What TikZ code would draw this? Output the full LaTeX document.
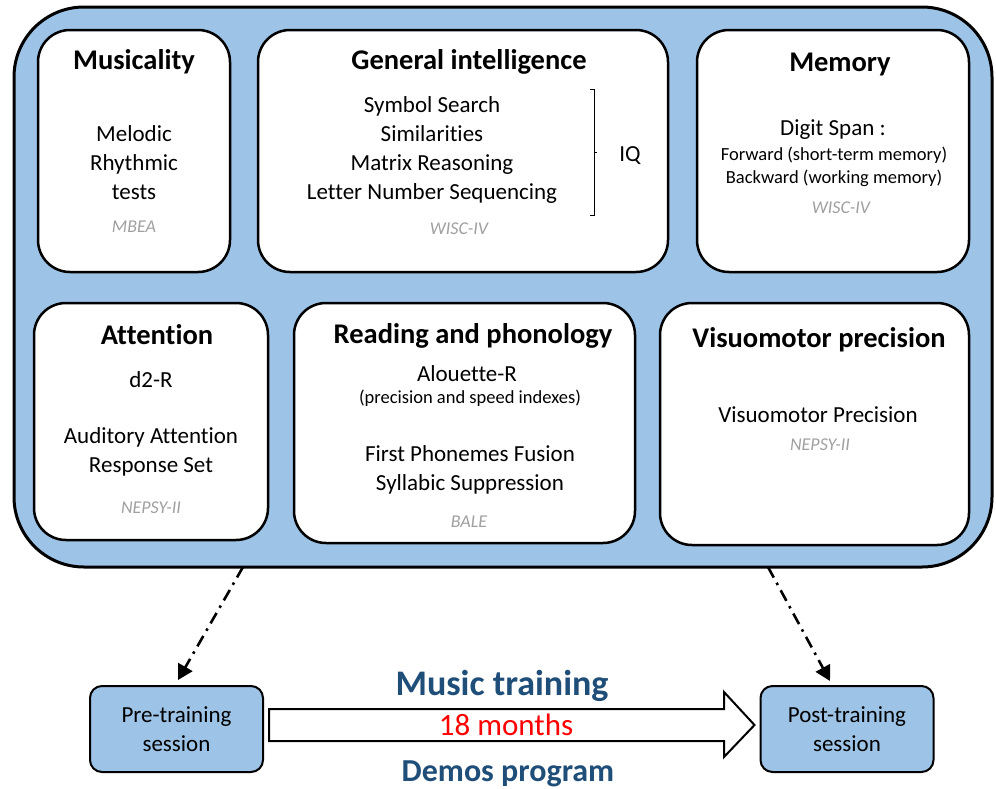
\documentclass[tikz,border=0pt]{standalone}
\usepackage{fontspec}
\setmainfont{Carlito}[Ligatures=NoCommon]
\usetikzlibrary{arrows.meta,calc}
\definecolor{boxblue}{RGB}{157,195,230}
\definecolor{darkblue}{RGB}{31,78,121}
\definecolor{graytxt}{RGB}{160,160,160}
\tikzset{
  outerbox/.style={draw=black, line width=3pt, fill=boxblue, rounded corners=70pt, minimum width=978pt, minimum height=560pt, inner sep=0pt},
  ibox/.style={draw=black, line width=2.5pt, fill=white, rounded corners=32pt, inner sep=0pt},
  sbox/.style={draw=black, line width=2pt, fill=boxblue, rounded corners=12pt, minimum width=173pt, minimum height=86pt, inner sep=0pt, align=center, font=\fontsize{23}{29}\selectfont},
  ttl/.style={font=\fontsize{28.5}{32}\selectfont\bfseries, inner sep=0pt},
  bodytxt/.style={font=\fontsize{23}{29}\selectfont, align=center, inner sep=0pt},
  smalltxt/.style={font=\fontsize{18.5}{23}\selectfont, align=center, inner sep=0pt},
  srctxt/.style={font=\fontsize{18}{22}\selectfont\itshape, text=graytxt, inner sep=0pt},
  dashdot/.style={line width=2.6pt, dash pattern=on 12pt off 6pt on 2.5pt off 6pt, -{Triangle[length=15pt,width=16pt]}},
  bigarrow/.style={draw=black, line width=2pt, fill=white, line join=miter}
}
\begin{document}
\begin{tikzpicture}[x=1pt,y=-1pt]
\useasboundingbox (0,0) rectangle (996,788);
% outer container
\node[outerbox] (outer) at (503,287) {};
% inner boxes
\node[ibox, minimum width=192pt, minimum height=242pt] (mus) at (134,151) {};
\node[ibox, minimum width=410pt, minimum height=242pt] (gi) at (463,151) {};
\node[ibox, minimum width=272pt, minimum height=242pt] (mem) at (833,151) {};
\node[ibox, minimum width=234pt, minimum height=237pt] (att) at (151,421.5) {};
\node[ibox, minimum width=341pt, minimum height=240pt] (read) at (464.5,423) {};
\node[ibox, minimum width=309pt, minimum height=242pt] (vis) at (814.5,424) {};
% Musicality
\node[ttl] (musT) at (134,62) {Musicality};
\node[bodytxt] (musB) at (134,163) {Melodic\\Rhythmic\\tests};
\node[srctxt] (musS) at (134,227) {MBEA};
% General intelligence
\node[ttl] (giT) at (469,62) {General intelligence};
\node[bodytxt] (giB) at (432,150) {Symbol Search\\Similarities\\Matrix Reasoning\\Letter Number Sequencing};
\node[bodytxt] (iq) at (630,156) {IQ};
\node[srctxt] (giS) at (459,229) {WISC-IV};
\coordinate (brT) at (594,89);
\coordinate (brB) at (594,215);
\draw[line width=1pt] ($(brT)+(-4,0)$) -- (brT) -- (brB) -- ($(brB)+(-4,0)$);
\draw[line width=1pt] ($(brT)!0.5!(brB)$) -- ++(3,0);
% Memory
\node[ttl] (memT) at (840,64) {Memory};
\node[bodytxt] (memB) at (833,130) {Digit Span :};
\node[smalltxt] (memF) at (834,167) {Forward (short-term memory)\\Backward (working memory)};
\node[srctxt] (memS) at (841,208) {WISC-IV};
% Attention
\node[ttl] (attT) at (157,335) {Attention};
\node[bodytxt] (attD) at (151,380) {d2-R};
\node[bodytxt] (attB) at (151,452) {Auditory Attention\\Response Set};
\node[srctxt] (attS) at (151,508) {NEPSY-II};
% Reading
\node[ttl] (readT) at (473,336) {Reading and phonology};
\node[bodytxt] (readA) at (467,374) {Alouette-R};
\node[smalltxt] (readP) at (470,398) {(precision and speed indexes)};
\node[bodytxt] (readB) at (470,470) {First Phonemes Fusion\\Syllabic Suppression};
\node[srctxt] (readS) at (469,522) {BALE};
% Visuomotor
\node[ttl] (visT) at (819,340) {Visuomotor precision};
\node[bodytxt] (visB) at (818,415) {Visuomotor Precision};
\node[srctxt] (visS) at (820,445) {NEPSY-II};
% bottom sessions
\node[sbox] (pre) at (176.5,729) {Pre-training\\session};
\node[sbox] (post) at (847,729) {Post-training\\session};
% dash-dot arrows
\coordinate (outL) at (243,567);
\coordinate (outR) at (768,567);
\draw[dashdot] (outL) -- ($(pre.north)+(1.5,-5)$);
\draw[dashdot] (outR) -- ($(post.north)+(-17,-4)$);
% big arrow between sessions
\draw[bigarrow] ($(pre.east)+(5,-20)$) -- (724,709) -- (724,692) -- ($(post.west)+(-5,-4)$) -- (724,757) -- (724,741) -- ($(pre.east)+(5,12)$) -- cycle;
\node[font=\fontsize{36}{40}\selectfont\bfseries, text=darkblue, inner sep=0pt] (mt) at (502,686) {Music training};
\node[font=\fontsize{31}{34}\selectfont, text=red, inner sep=0pt] (months) at (506,725) {18 months};
\node[font=\fontsize{32}{36}\selectfont\bfseries, text=darkblue, inner sep=0pt] (demos) at (508,774) {Demos program};
\end{tikzpicture}
\end{document}
